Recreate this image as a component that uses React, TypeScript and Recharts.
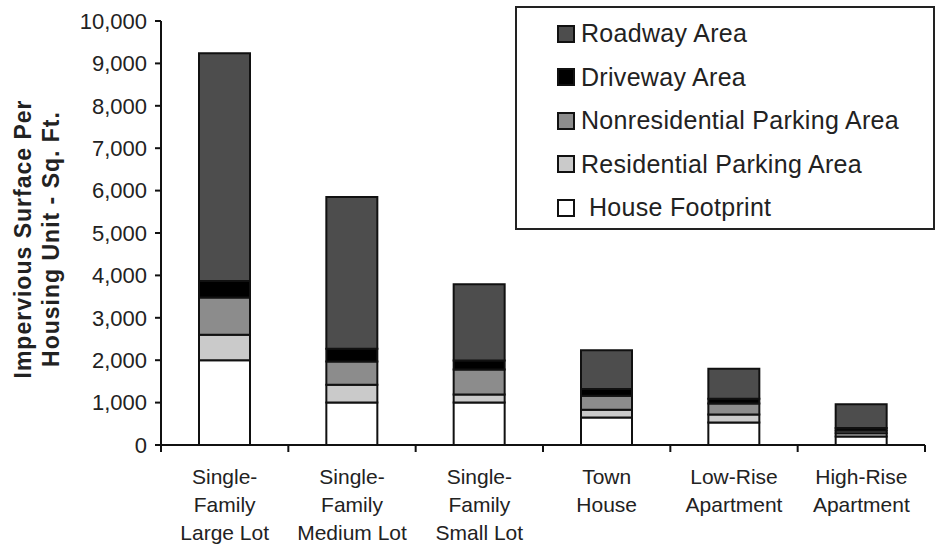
import { BarChart, Bar, XAxis, YAxis, Legend, Label } from "recharts";

const categories = [
  "Single-\nFamily\nLarge Lot",
  "Single-\nFamily\nMedium Lot",
  "Single-\nFamily\nSmall Lot",
  "Town\nHouse",
  "Low-Rise\nApartment",
  "High-Rise\nApartment",
];
const houseFootprint = [2000, 1000, 1000, 650, 530, 200];
const residentialParking = [600, 420, 190, 180, 190, 80];
const nonresidentialParking = [880, 550, 590, 330, 260, 60];
const drivewayArea = [390, 300, 210, 160, 110, 60];
const roadwayArea = [5370, 3580, 1800, 915, 710, 560];
const yTicks = [0, 1000, 2000, 3000, 4000, 5000, 6000, 7000, 8000, 9000, 10000];

const data = categories.map((name, i) => ({
  name,
  house: houseFootprint[i],
  residential: residentialParking[i],
  nonresidential: nonresidentialParking[i],
  driveway: drivewayArea[i],
  roadway: roadwayArea[i],
}));

// stacking order, bottom to top
const series = [
  { key: "house", name: "House Footprint", color: "#ffffff" },
  { key: "residential", name: "Residential Parking Area", color: "#cacaca" },
  { key: "nonresidential", name: "Nonresidential Parking Area", color: "#8c8c8c" },
  { key: "driveway", name: "Driveway Area", color: "#000000" },
  { key: "roadway", name: "Roadway Area", color: "#4d4d4d" },
];

const FONT = "'Liberation Sans', Arial, sans-serif";
const INK = "#111";

// category labels + boundary ticks (ticks sit between bars, not under them)
function CategoryTick(props: any) {
  const { x, y, payload, index } = props;
  const half = payload.offset ?? 0;
  const lines = String(payload.value).split("\n");
  return (
    <g>
      <line x1={x - half} x2={x - half} y1={y - 7} y2={y} stroke={INK} strokeWidth={2} />
      {index === categories.length - 1 && (
        <line x1={x + half} x2={x + half} y1={y - 7} y2={y} stroke={INK} strokeWidth={2} />
      )}
      <text x={x} y={y} textAnchor="middle" fill="#222" fontSize={21} fontFamily={FONT}>
        {lines.map((l, i) => (
          <tspan key={i} x={x} dy={i === 0 ? 32 : 28}>
            {l}
          </tspan>
        ))}
      </text>
    </g>
  );
}

function YTitle(props: any) {
  const vb = props.viewBox;
  const cy = vb.y + vb.height / 2 + 6;
  const style = { fontSize: 23, fontWeight: "bold" as const, fill: "#222", fontFamily: FONT, letterSpacing: 1 };
  return (
    <g>
      <text x={23} y={cy} transform={`rotate(-90 23 ${cy})`} textAnchor="middle" dominantBaseline="central" {...style}>
        Impervious Surface Per
      </text>
      <text x={51} y={cy} transform={`rotate(-90 51 ${cy})`} textAnchor="middle" dominantBaseline="central" {...style}>
        Housing Unit - Sq. Ft.
      </text>
    </g>
  );
}

function LegendBox() {
  const items = [...series].reverse();
  return (
    <div
      style={{
        border: "2px solid #222",
        width: 420,
        height: 224,
        boxSizing: "border-box",
        paddingTop: 4,
        paddingLeft: 40,
        fontFamily: FONT,
        background: "#fff",
      }}
    >
      {items.map((it) => (
        <div key={it.key} style={{ display: "flex", alignItems: "center", height: 43.5 }}>
          <span
            style={{
              width: 14,
              height: 14,
              border: "2px solid #111",
              background: it.color,
              display: "inline-block",
              flexShrink: 0,
              marginRight: it.key === "house" ? 14 : 6,
            }}
          />
          <span style={{ fontSize: 25, color: "#222", letterSpacing: 0.3, whiteSpace: "nowrap" }}>{it.name}</span>
        </div>
      ))}
    </div>
  );
}

export default function App() {
  return (
    <div style={{ position: "absolute", left: 0, top: 0, background: "#fff" }}>
      <BarChart width={939} height={548} data={data} margin={{ top: 21, right: 14, left: 0, bottom: 0 }} barSize={51}>
        <XAxis
          dataKey="name"
          height={103}
          interval={0}
          axisLine={{ stroke: INK, strokeWidth: 2 }}
          tickLine={false}
          tickSize={7}
          tickMargin={0}
          tick={<CategoryTick />}
        />
        <YAxis
          width={161}
          domain={[0, 10000]}
          ticks={yTicks}
          interval={0}
          tickFormatter={(v: number) => v.toLocaleString("en-US")}
          axisLine={{ stroke: INK, strokeWidth: 2 }}
          tickLine={{ stroke: INK, strokeWidth: 2 }}
          tickSize={6}
          tickMargin={8}
          tick={{ fontSize: 22, fill: "#222", fontFamily: FONT }}
        >
          <Label content={<YTitle />} />
        </YAxis>
        <Legend
          layout="vertical"
          align="center"
          verticalAlign="middle"
          content={<LegendBox />}
          wrapperStyle={{ left: 515, top: 6, width: 420, height: 224 }}
        />
        {series.map((s) => (
          <Bar
            key={s.key}
            dataKey={s.key}
            name={s.name}
            stackId="a"
            fill={s.color}
            stroke={INK}
            strokeWidth={2}
            isAnimationActive={false}
          />
        ))}
      </BarChart>
    </div>
  );
}
